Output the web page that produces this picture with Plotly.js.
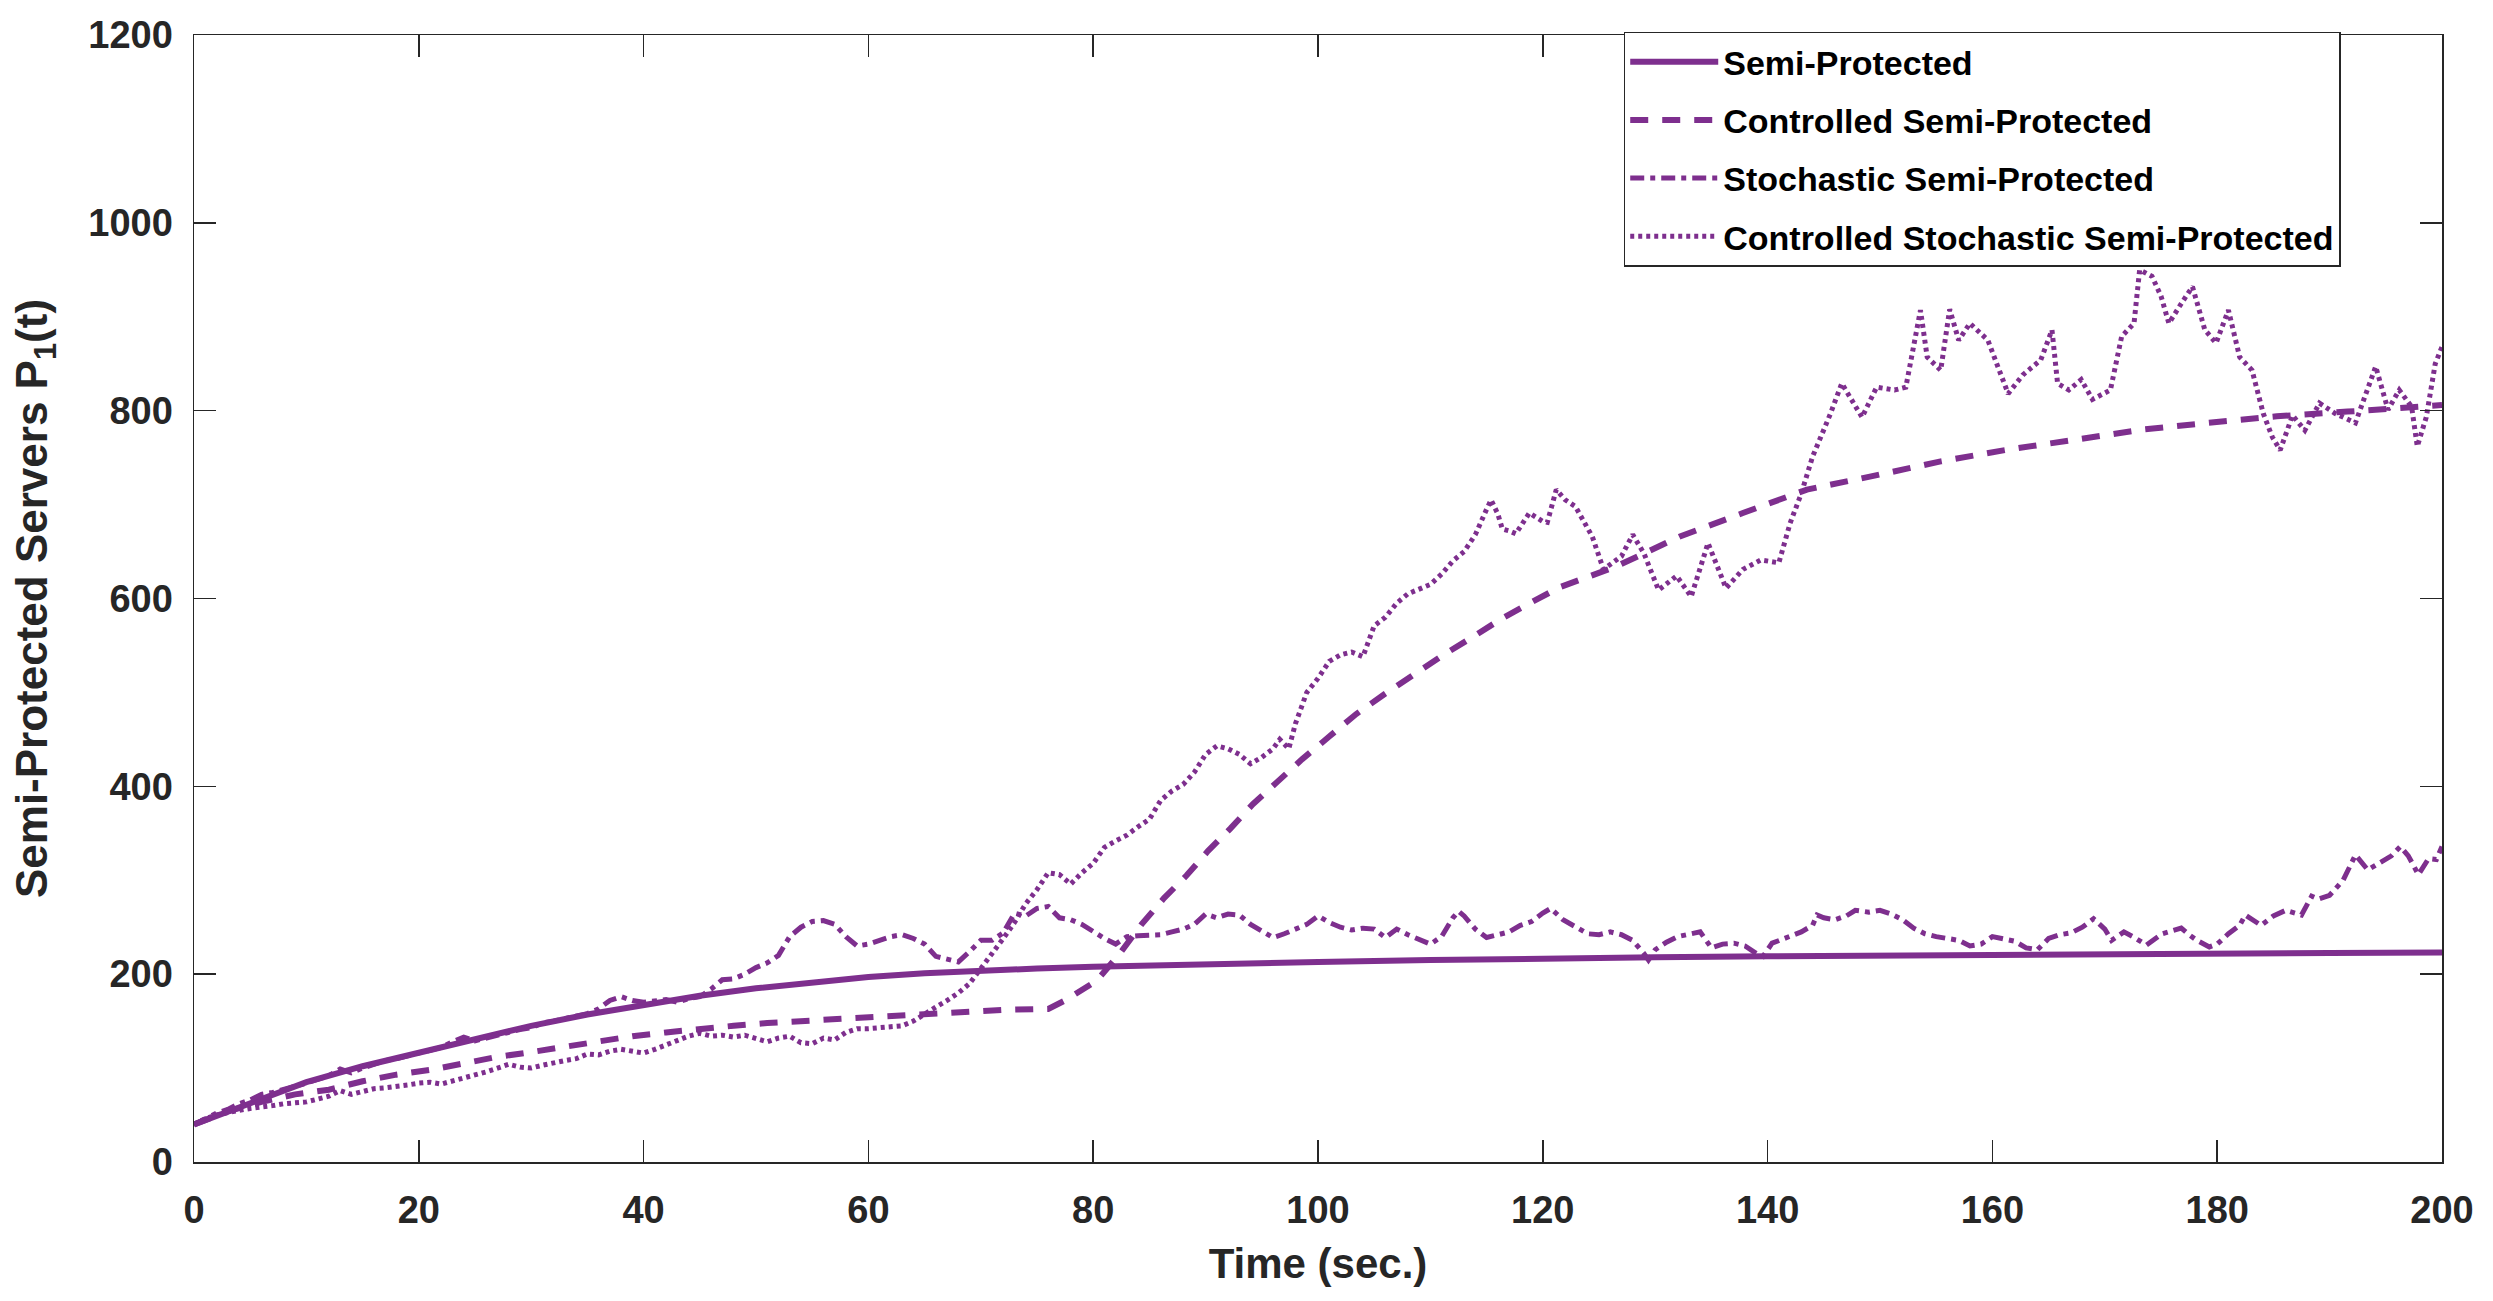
<!DOCTYPE html>
<html>
<head>
<meta charset="utf-8">
<script src="https://cdn.plot.ly/plotly-3.0.1.min.js"></script>
<style>html,body{margin:0;padding:0;background:#fff;}#chart{width:2493px;height:1301px;}</style>
</head>
<body>
<div id="chart"></div>
<script>
// ---- data ----
const seriesNames = ["Semi-Protected", "Controlled Semi-Protected", "Stochastic Semi-Protected", "Controlled Stochastic Semi-Protected"];

const tSemi = [0,5,10,15,20,25,30,35,40,45,50,55,60,65,70,75,80,90,100,110,120,130,140,150,160,170,180,190,200];
const semi  = [40,63,85,102,116,131,145,157,167,177,185,191,197,201,204,206,208,211,213,215,217,218,219,220,221,221.5,222,222.5,223];

const tCtrl = [0,3,6,9,12,15,18,21,24,27,30,33,36,39,42,45,48,51,54,57,60,63,66,69,72,76,77.5,80.3,82.3,84.3,86.3,88.3,90.2,92.2,94.2,96.4,98.6,101,103.4,105.9,108.5,111.3,113.9,116.4,119,121.5,126.5,132.2,137.8,143.5,149.2,155.4,161.1,167.3,173.5,179.2,185.3,191.6,197.2,200];
const ctrl  = [40,54,64,72,77,86,93,98,105,112,117,123,128,134,138,142,145,148,150,153,155,157,159,161,162,163,172,193,221,253,281,305,331,355,381,405,429,453,477,498,519,541,560,579,596,612,634,666,691,716,730,746,758,769,780,787,794,799,804,806];

const tStoch = [0,1,2,3,4,5,6,7,8,9,10,11,12,13,14,15,16,17,18,19,20,21,22,23,24,25,26,27,28,29,30,31,32,33,34,35,36,37,38,39,40,41,42,43,44,45,46,47,48,49,50,51,52,53,54,55,56,57,58,59,60,61,62,63,64,65,66,67,68,69,70,71,72,73,74,75,76,77,78,79,80,81,82,83,84,85,86,87,88,89,90,91,92,93,94,95,96,97,98,99,100,101,102,103,104,105,106,107,108,109,110,111,112,112.5,113,114,115,116,117,118,119,120,120.7,121.8,123,124,125,126,127,128,129,129.4,130,131,132,133,134,135,136,137,138,139,139.6,140.4,141,142,143,144,144.4,145,146,147,147.8,149,150,151,152,153,154,155,156,157,158,159,160,161,162,163,164,165,166,167,168,169,170,170.6,171.7,172.5,173.7,175.1,176,176.8,177.5,178.2,179.3,180,181,182,182.5,183.9,185,186.1,187.5,188.4,189,190,191.2,192,192.3,193.4,194.6,195.5,196.3,197,197.9,198.8,199.5,200];
const stoch  = [40,46,52,56,62,66,72,74,77,80,84,88,92,99,95,100,104,108,110,113,116,118,122,128,133,129,132,136,139,141,143,148,150,153,155,158,163,172,176,172,170,171,173,170,174,176,184,194,195,200,207,212,220,240,250,256,257,253,240,230,232,236,240,242,238,232,219,216,213,224,236,236,244,265,262,270,272,260,258,253,245,238,232,240,241,242,242,245,248,253,264,260,264,263,253,246,239,243,248,253,262,255,250,247,249,248,239,248,242,237,232,240,260,267,262,248,239,242,245,252,256,265,270,258,250,243,242,245,242,236,222,215,226,234,240,243,245,228,232,233,230,222,219,233,236,240,245,252,263,260,258,262,268,266,268,264,258,249,243,240,238,236,230,232,240,237,235,228,226,238,242,244,250,259,248,236,245,240,231,243,246,249,242,236,229,232,243,252,263,252,262,268,263,283,280,284,300,318,327,311,320,326,336,326,306,323,322,336];

const tCtrlStoch = [0,1,2,3,4,5,6,7,8,9,10,11,12,13,14,15,16,17,18,19,20,21,22,23,24,25,26,27,28,29,30,31,32,33,34,35,36,37,38,39,40,41,42,43,44,45,46,47,48,49,50,51,52,53,54,55,56,57,58,59,60,61,62,63,64,65,66,67,68,69,70,71,72,73,74,75,76,77,78,79,80,81,82,83,84,85,86,87,88,89,90,91,92,93,94,95,96,96.6,97.4,98,99,100,101,102,103,104,105,106,107,108,109,110,111,112,113,114,115,115.4,116,116.4,117,117.6,118.8,120,120.4,121.2,122,122.9,124.4,125.4,127,128,129,130.3,131.9,133.2,134.7,136.3,137.8,139.4,141,142,143,144,145.6,146.6,148.4,149.7,151.3,152.3,153.6,154.2,155.4,156.2,157,158,159.6,160.6,161.4,162.7,164.3,165.3,165.8,166.8,167.9,168.9,170.5,171.5,172.6,173.1,174.2,175,175.7,176.8,177.8,178.9,179.9,181,182,183.1,184.1,184.9,185.6,186.7,187.8,189.1,190.5,192.3,193.1,194.1,195.2,196.2,197.3,197.8,198.6,199.4,200];
const ctrlStoch  = [40,46,50,53,55,57,58,60,62,63,64,67,70,76,72,75,78,79,80,82,84,85,83,86,90,93,96,100,104,101,100,103,106,108,110,115,114,118,120,118,116,120,125,130,134,137,134,135,133,135,132,128,132,134,127,126,132,130,138,142,142,143,144,145,150,158,165,172,180,190,205,222,238,255,275,290,308,306,296,308,318,335,342,348,357,365,385,395,402,415,434,443,440,434,424,431,440,450,440,467,500,515,533,540,543,538,571,580,595,605,610,615,626,640,650,668,695,705,690,674,672,669,691,682,681,716,705,698,666,631,645,668,648,609,624,602,659,611,631,641,638,680,712,751,797,829,793,825,822,825,907,857,843,908,875,893,875,843,818,838,854,886,829,822,833,812,822,879,893,950,943,922,893,914,932,886,872,907,857,843,797,772,758,795,779,808,797,787,815,847,801,822,804,762,793,850,868];

const xTickVals = [0,20,40,60,80,100,120,140,160,180,200];
const yTickVals = [0,200,400,600,800,1000,1200];

// ---- styling ----
const purple = "#7E2F8E";
const axisCol = "#262626";
const fontFam = "'Liberation Sans', Arial, Helvetica, sans-serif";

const traces = [
  {x: tSemi, y: semi, name: seriesNames[0], legendgroup: "a",
   line: {color: purple, width: 6, dash: "solid"}},
  {x: tCtrl, y: ctrl, name: seriesNames[1], legendgroup: "b",
   line: {color: purple, width: 6, dash: "18px,14px"}},
  {x: tStoch, y: stoch, name: seriesNames[2], legendgroup: "c",
   line: {color: purple, width: 5, dash: "14px,6px,5px,6px"}},
  {x: tCtrlStoch, y: ctrlStoch, name: seriesNames[3], legendgroup: "d",
   line: {color: purple, width: 5, dash: "4px,4px"}}
].map(t => Object.assign({type: "scatter", mode: "lines", hoverinfo: "skip"}, t));

const axisCommon = {
  showgrid: false, zeroline: false, showline: true, mirror: "ticks",
  linecolor: axisCol, linewidth: 1.5,
  ticks: "inside", ticklen: 22, tickwidth: 1.5, tickcolor: axisCol,
  tickfont: {family: fontFam, size: 38, color: axisCol, weight: "bold"},
  automargin: false
};

const layout = {
  width: 2493, height: 1301,
  margin: {l: 194, r: 51, t: 35, b: 139, pad: 0},
  paper_bgcolor: "#fff", plot_bgcolor: "#fff",
  showlegend: true,
  xaxis: Object.assign({}, axisCommon, {
    range: [0, 200], tickvals: xTickVals, ticktext: xTickVals.map(String),
    ticklabelstandoff: 14,
    title: {text: "Time (sec.)", standoff: 18,
            font: {family: fontFam, size: 42, color: axisCol, weight: "bold"}}
  }),
  yaxis: Object.assign({}, axisCommon, {
    range: [0, 1200], tickvals: yTickVals, ticktext: yTickVals.map(String),
    ticklabelstandoff: 12,
    title: {text: "Semi-Protected Servers P<sub>1</sub>(t)", standoff: 27,
            font: {family: fontFam, size: 44, color: axisCol, weight: "bold"}}
  }),
  legend: {
    x: 0.636, y: 1.003, xanchor: "left", yanchor: "top",
    bgcolor: "#fff", bordercolor: axisCol, borderwidth: 1.5,
    font: {family: fontFam, size: 34, color: "#000", weight: "bold"},
    tracegroupgap: 11, itemwidth: 88
  }
};

Plotly.newPlot("chart", traces, layout, {staticPlot: true, displayModeBar: false});
</script>
</body>
</html>
